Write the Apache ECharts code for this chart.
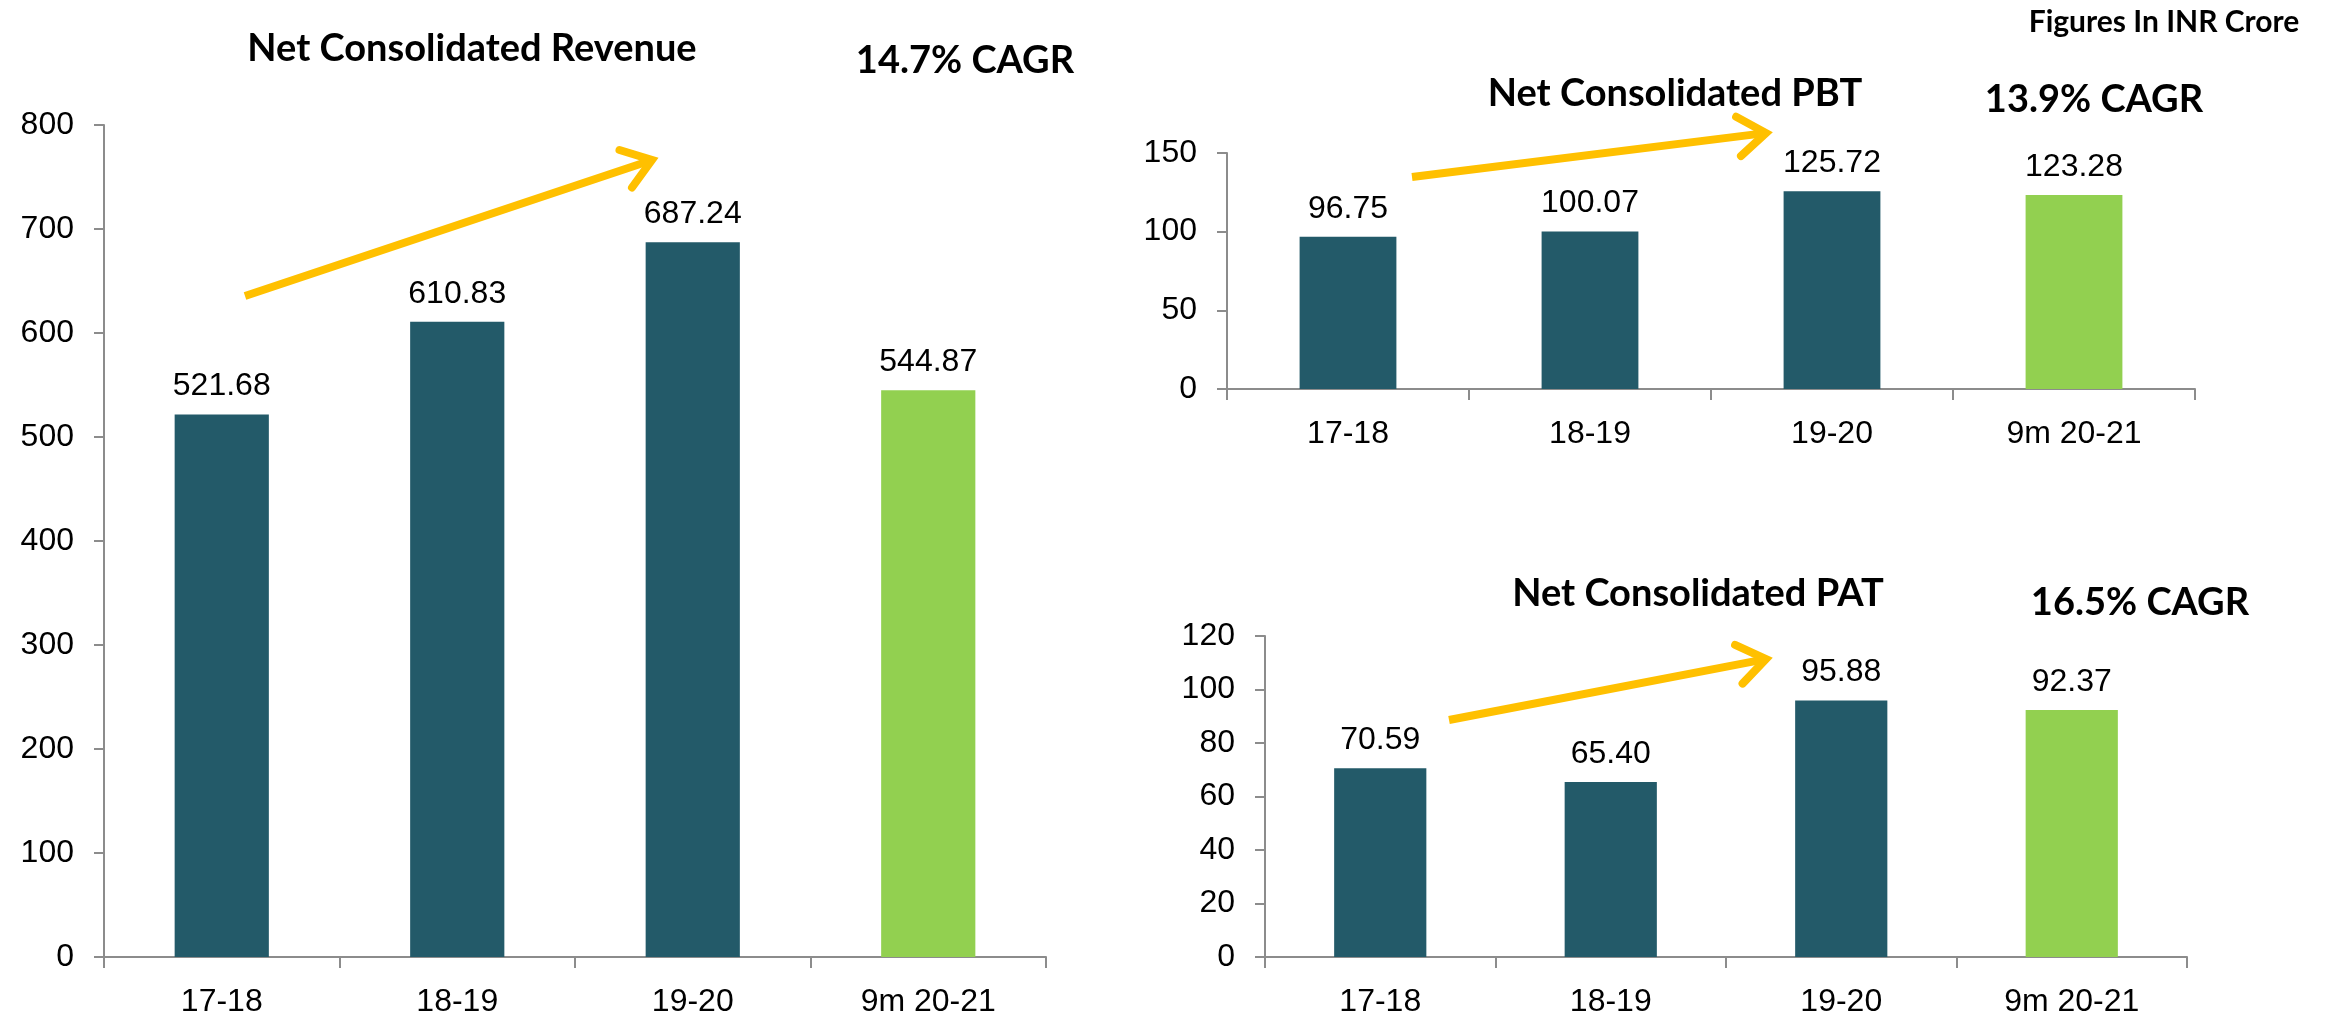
<!DOCTYPE html>
<html>
<head>
<meta charset="utf-8">
<script src="https://cdn.jsdelivr.net/npm/echarts@6/dist/echarts.min.js"></script>
<style>
  html, body { margin: 0; padding: 0; background: #fff; }
  #main { width: 2331px; height: 1018px; }
</style>
</head>
<body>
<div id="main"></div>
<script>
var categories = ['17-18', '18-19', '19-20', '9m 20-21'];
var revenue = [521.68, 610.83, 687.24, 544.87];
var pbt = [96.75, 100.07, 125.72, 123.28];
var pat = [70.59, 65.40, 95.88, 92.37];

var DARK = '#235A69';
var GREEN = '#92D050';
var AXIS = '#8C8C8C';
var ARROW = '#FFC000';

var myChart = echarts.init(document.getElementById('main'));

// last bar (9m) drawn green
function colored(arr) {
    return arr.map(function (v, i) {
        return {value: v, itemStyle: {color: i === arr.length - 1 ? GREEN : DARK}};
    });
}

function xAxis(grid) {
    return {
        type: 'category',
        gridIndex: grid,
        data: categories,
        axisLine: {lineStyle: {color: AXIS, width: 2}},
        axisTick: {show: true, length: 11, lineStyle: {color: AXIS, width: 2}},
        axisLabel: {color: '#000', fontSize: 32, fontFamily: 'Liberation Sans', margin: 29}
    };
}

function yAxis(grid, max, step) {
    return {
        type: 'value',
        gridIndex: grid,
        min: 0,
        max: max,
        interval: step,
        splitLine: {show: false},
        axisLine: {show: true, lineStyle: {color: AXIS, width: 2}},
        axisTick: {show: true, length: 10, lineStyle: {color: AXIS, width: 2}},
        axisLabel: {color: '#000', fontSize: 32, fontFamily: 'Liberation Sans', margin: 30}
    };
}

function bars(idx, data) {
    return {
        type: 'bar',
        xAxisIndex: idx,
        yAxisIndex: idx,
        barWidth: '40%',
        data: colored(data),
        label: {
            show: true,
            position: 'top',
            distance: 12,
            color: '#000',
            fontSize: 32,
            fontFamily: 'Liberation Sans',
            formatter: function (p) { return p.value.toFixed(2); }
        }
    };
}

function heading(text, x, y, size) {
    return {
        text: text,
        left: x,
        top: y,
        padding: 0,
        textAlign: 'center',
        textVerticalAlign: 'middle',
        textStyle: {fontFamily: 'Lato', fontWeight: 'bold', fontSize: size, color: '#000'}
    };
}

// open chevron arrow
function arrow(x1, y1, x2, y2) {
    var a = Math.atan2(y1 - y2, x1 - x2);
    var L = 34, s = 0.62;
    var p1 = [x2 + L * Math.cos(a + s), y2 + L * Math.sin(a + s)];
    var p2 = [x2 + L * Math.cos(a - s), y2 + L * Math.sin(a - s)];
    return [
        {type: 'polyline', shape: {points: [[x1, y1], [x2 - 3 * Math.cos(a + Math.PI), y2 - 3 * Math.sin(a + Math.PI)]]},
         style: {stroke: ARROW, lineWidth: 8, fill: null}},
        {type: 'polyline', shape: {points: [p1, [x2, y2], p2]},
         style: {stroke: ARROW, lineWidth: 8, fill: null, lineJoin: 'miter', lineCap: 'round'}}
    ];
}

option = {
    backgroundColor: '#fff',
    animation: false,
    title: [
        heading('Net Consolidated Revenue', 472, 49, 38),
        heading('14.7% CAGR', 965, 61, 38),
        heading('Net Consolidated PBT', 1675, 94, 38),
        heading('13.9% CAGR', 2094, 100, 38),
        heading('Net Consolidated PAT', 1698, 594, 38),
        heading('16.5% CAGR', 2140, 603, 38),
        heading('Figures In INR Crore', 2164, 22, 30)
    ],
    grid: [
        {left: 104, top: 125, width: 942, height: 835},
        {left: 1227, top: 153, width: 968, height: 236},
        {left: 1265, top: 636, width: 922, height: 325}
    ],
    xAxis: [xAxis(0), xAxis(1), xAxis(2)],
    yAxis: [yAxis(0, 800, 100), yAxis(1, 150, 50), yAxis(2, 120, 20)],
    series: [bars(0, revenue), bars(1, pbt), bars(2, pat)],
    graphic: [].concat(
        arrow(245, 296, 652, 160),
        arrow(1412, 177, 1766, 133),
        arrow(1449, 720, 1766, 659)
    )
};
myChart.setOption(option);
window.onresize = myChart.resize;
</script>
</body>
</html>
